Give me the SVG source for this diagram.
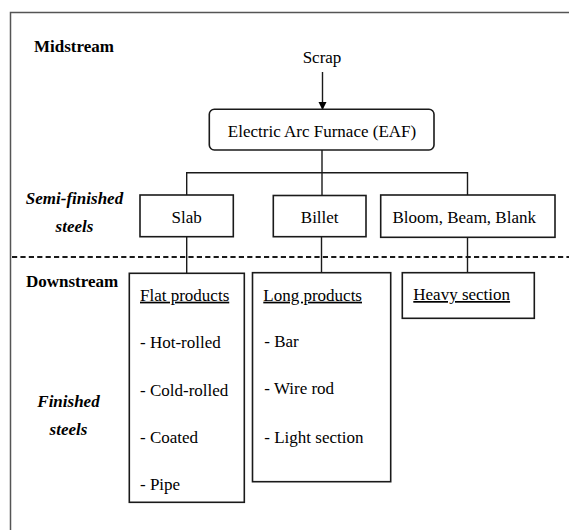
<svg xmlns="http://www.w3.org/2000/svg" width="569" height="530" viewBox="0 0 569 530">
<style>
  text { font-family: "Liberation Serif", "Times New Roman", serif; font-size: 17px; fill: #000; }
  .lbl { font-weight: bold; }
  .lbli { font-weight: bold; font-style: italic; }
  .mid { text-anchor: middle; }
  .u { text-decoration: underline; }
  .box { fill: #fff; stroke: #1a1a1a; stroke-width: 1.6; }
  .conn { fill: none; stroke: #1a1a1a; stroke-width: 1.4; }
</style>
<defs>
  <marker id="arr" viewBox="0 0 8 10" refX="8" refY="5" markerWidth="8" markerHeight="10" markerUnits="userSpaceOnUse" orient="auto">
    <path d="M0,1 L8,5 L0,9 Z" fill="#000"/>
  </marker>
</defs>
<rect x="0" y="0" width="569" height="530" fill="#fff"/>
<path d="M10.5,530 V12.5 H569" fill="none" stroke="#555" stroke-width="1.5"/>
<line x1="12" y1="257" x2="569" y2="257" stroke="#1a1a1a" stroke-width="1.8" stroke-dasharray="5.2 3.2"/>

<g id="labels">
  <text class="lbl" x="34" y="52">Midstream</text>
  <text class="lbli mid" x="74.5" y="204">Semi-finished</text>
  <text class="lbli mid" x="74.5" y="232">steels</text>
  <text class="lbl" x="26" y="287">Downstream</text>
  <text class="lbli mid" x="68.5" y="407">Finished</text>
  <text class="lbli mid" x="68.5" y="435">steels</text>
</g>

<g id="connectors">
  <line class="conn" x1="322.5" y1="72" x2="322.5" y2="110" marker-end="url(#arr)"/>
  <path class="conn" d="M322,150 V195 M186.7,195 V172.7 H467.5 V195"/>
  <line class="conn" x1="186.7" y1="236.7" x2="186.7" y2="273.3"/>
  <line class="conn" x1="321.5" y1="236.7" x2="321.5" y2="272.7"/>
  <line class="conn" x1="467.5" y1="237" x2="467.5" y2="272.7"/>
</g>

<g id="scrap">
  <text class="mid" x="322" y="63">Scrap</text>
</g>
<g id="eaf">
  <rect class="box" x="209.3" y="109.3" width="224.7" height="40.7" rx="5" ry="5"/>
  <text class="mid" x="322" y="137">Electric Arc Furnace (EAF)</text>
</g>
<g id="slab">
  <rect class="box" x="140" y="195" width="93.3" height="41.7"/>
  <text class="mid" x="186.7" y="223">Slab</text>
</g>
<g id="billet">
  <rect class="box" x="273.3" y="195.5" width="92.7" height="41.2"/>
  <text class="mid" x="319.7" y="223">Billet</text>
</g>
<g id="bloom">
  <rect class="box" x="380.7" y="195" width="174.3" height="42.3"/>
  <text class="mid" x="464.2" y="223">Bloom, Beam, Blank</text>
</g>
<g id="flat">
  <rect class="box" x="129.3" y="273.3" width="115" height="229"/>
  <text class="u" x="140" y="300.7">Flat products</text>
  <text x="140" y="348.3">- Hot-rolled</text>
  <text x="140" y="396">- Cold-rolled</text>
  <text x="140" y="442.7">- Coated</text>
  <text x="140" y="490">- Pipe</text>
</g>
<g id="long">
  <rect class="box" x="252.5" y="272.7" width="138.2" height="209"/>
  <text class="u" x="263.3" y="300.7">Long products</text>
  <text x="264.3" y="347.3">- Bar</text>
  <text x="264.3" y="394.3">- Wire rod</text>
  <text x="264.3" y="442.7">- Light section</text>
</g>
<g id="heavy">
  <rect class="box" x="402.3" y="272.7" width="132" height="45.6"/>
  <text class="u" x="413.3" y="300">Heavy section</text>
</g>
</svg>
